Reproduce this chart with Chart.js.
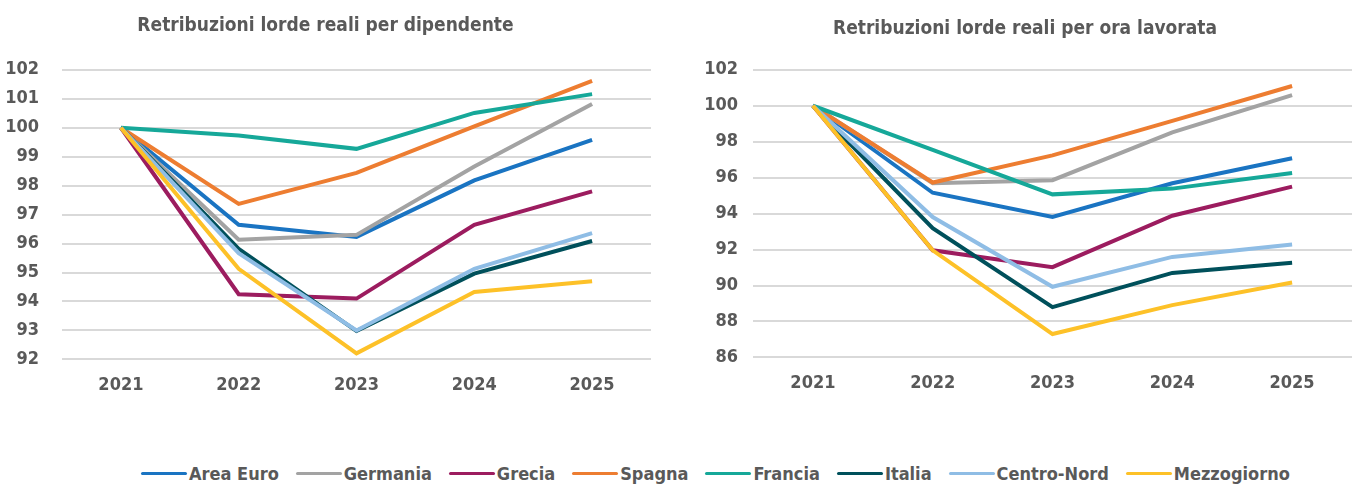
<!DOCTYPE html>
<html>
<head>
<meta charset="utf-8">
<script src="https://cdn.jsdelivr.net/npm/chart.js@4"></script>
<style>
  html, body { margin: 0; padding: 0; background: #fff; }
  body { width: 1356px; height: 490px; position: relative; overflow: hidden;
         font-family: 'DejaVu Sans Condensed', 'Liberation Sans Narrow', sans-serif; }
  .box { position: absolute; top: 0; height: 416px; }
  #legend { position: absolute; left: 141px; top: 463px; display: flex; align-items: center;
            font-weight: bold; font-size: 18px; color: #595959; white-space: nowrap; }
  #legend .item { display: flex; align-items: center; margin-right: 17px; }
  #legend .sw { width: 46px; height: 3px; border-radius: 2px; margin-right: 2px; }
</style>
</head>
<body>
<div class="box" style="left:0;width:656px"><canvas id="left"></canvas></div>
<div class="box" style="left:698px;width:658px"><canvas id="right"></canvas></div>
<div id="legend"></div>
<script>
const years = ['2021', '2022', '2023', '2024', '2025'];
const seriesNames = ['Area Euro', 'Germania', 'Grecia', 'Spagna', 'Francia', 'Italia', 'Centro-Nord', 'Mezzogiorno'];
const colors = ['#1a74c2', '#a3a3a3', '#9c1c5f', '#ed7d31', '#16a899', '#00505b', '#8fbde5', '#fdc128'];

// Retribuzioni lorde reali per dipendente
const perDipAreaEuro = [100, 96.65, 96.23, 98.18, 99.58];
const perDipGermania = [100, 96.13, 96.3, 98.66, 100.82];
const perDipGrecia = [100, 94.25, 94.1, 96.65, 97.8];
const perDipSpagna = [100, 97.37, 98.44, 100.05, 101.62];
const perDipFrancia = [100, 99.73, 99.27, 100.51, 101.16];
const perDipItalia = [100, 95.82, 92.98, 94.96, 96.09];
const perDipCentroNord = [100, 95.67, 93.0, 95.13, 96.36];
const perDipMezzogiorno = [100, 95.13, 92.21, 94.33, 94.7];

// Retribuzioni lorde reali per ora lavorata
const perOraAreaEuro = [100, 95.16, 93.81, 95.69, 97.08];
const perOraGermania = [100, 95.69, 95.86, 98.52, 100.59];
const perOraGrecia = [100, 91.96, 91.02, 93.88, 95.5];
const perOraSpagna = [100, 95.73, 97.24, 99.16, 101.1];
const perOraFrancia = [100, 97.55, 95.07, 95.39, 96.26];
const perOraItalia = [100, 93.19, 88.8, 90.7, 91.27];
const perOraCentroNord = [100, 93.81, 89.93, 91.59, 92.28];
const perOraMezzogiorno = [100, 91.96, 87.3, 88.91, 90.17];

const leftTicks = [92, 93, 94, 95, 96, 97, 98, 99, 100, 101, 102];
const rightTicks = [86, 88, 90, 92, 94, 96, 98, 100, 102];

const FONT = "'DejaVu Sans Condensed', 'Liberation Sans Narrow', sans-serif";
const TXT = '#595959';

function makeDatasets(rows) {
    return rows.map((vals, i) => ({
        label: seriesNames[i],
        data: vals,
        borderColor: colors[i],
        backgroundColor: colors[i],
        borderWidth: 4,
        pointRadius: 0,
        tension: 0,
        order: rows.length - i   // later series drawn on top, as in the original
    }));
}

function makeChart(id, title, rows, ticks, yWidth, tickPad, titlePad, pad) {
    return new Chart(document.getElementById(id), {
        type: 'line',
        data: { labels: years, datasets: makeDatasets(rows) },
        options: {
            responsive: true,
            maintainAspectRatio: false,
            animation: false,
            layout: { padding: pad },
            plugins: {
                legend: { display: false },
                tooltip: { enabled: false },
                title: {
                    display: true,
                    text: title,
                    color: TXT,
                    font: { family: FONT, size: 19, weight: 'bold' },
                    padding: titlePad
                }
            },
            scales: {
                x: {
                    offset: true,
                    grid: { display: false, drawTicks: false },
                    border: { display: false },
                    ticks: { color: TXT, font: { family: FONT, size: 18, weight: 'bold' }, padding: 15 }
                },
                y: {
                    min: ticks[0],
                    max: ticks[ticks.length - 1],
                    afterBuildTicks: (s) => { s.ticks = ticks.map(v => ({ value: v })); },
                    afterFit: (s) => { s.width = yWidth; },
                    grid: { color: '#d9d9d9', lineWidth: 2, drawTicks: false },
                    border: { display: false },
                    ticks: { color: TXT, font: { family: FONT, size: 18, weight: 'bold' }, padding: tickPad }
                }
            }
        }
    });
}

makeChart('left', 'Retribuzioni lorde reali per dipendente',
    [perDipAreaEuro, perDipGermania, perDipGrecia, perDipSpagna, perDipFrancia, perDipItalia, perDipCentroNord, perDipMezzogiorno],
    leftTicks, 62, 23, { top: 15, bottom: 32 }, { top: 0, right: 5, bottom: 5, left: 0 });

makeChart('right', 'Retribuzioni lorde reali per ora lavorata',
    [perOraAreaEuro, perOraGermania, perOraGrecia, perOraSpagna, perOraFrancia, perOraItalia, perOraCentroNord, perOraMezzogiorno],
    rightTicks, 55, 15, { top: 18, bottom: 29 }, { top: 0, right: 4, bottom: 7, left: 0 });

const legend = document.getElementById('legend');
seriesNames.forEach((name, i) => {
    const item = document.createElement('div');
    item.className = 'item';
    const sw = document.createElement('span');
    sw.className = 'sw';
    sw.style.background = colors[i];
    const label = document.createElement('span');
    label.textContent = name;
    item.appendChild(sw);
    item.appendChild(label);
    legend.appendChild(item);
});
</script>
</body>
</html>
